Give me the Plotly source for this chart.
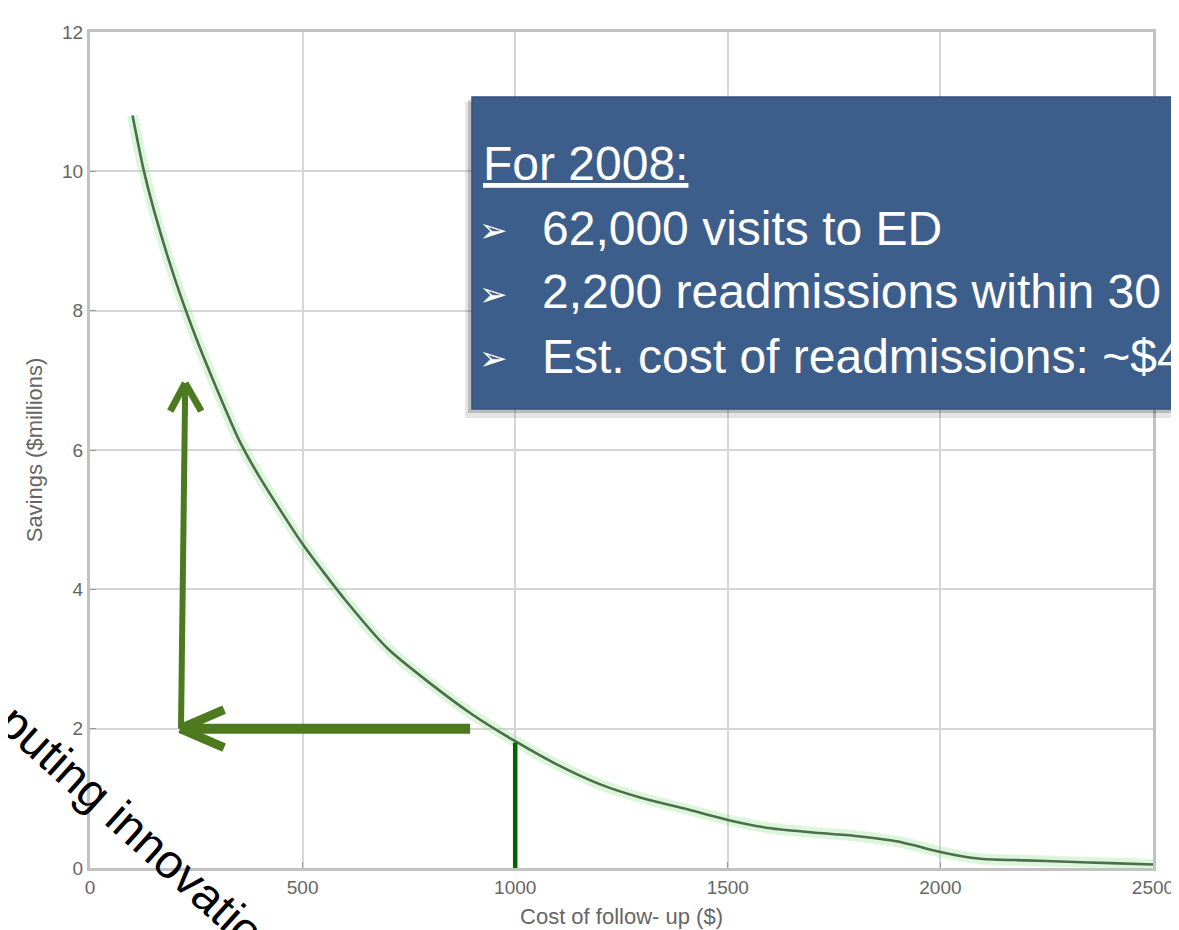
import plotly.graph_objects as go

# ---- data ----
cost = [100, 125, 150, 200, 250, 300, 350, 400, 500, 600, 700, 800, 900, 1000,
        1100, 1200, 1300, 1400, 1500, 1600, 1700, 1800, 1900, 2000, 2050, 2100,
        2200, 2300, 2400, 2500]
savings = [10.8, 10.05, 9.45, 8.45, 7.6, 6.85, 6.15, 5.6, 4.65, 3.85, 3.15, 2.65,
           2.2, 1.82, 1.48, 1.2, 1.0, 0.85, 0.69, 0.57, 0.51, 0.46, 0.38, 0.23,
           0.17, 0.13, 0.11, 0.09, 0.07, 0.05]
x_ticks = [0, 500, 1000, 1500, 2000, 2500]
y_ticks = [0, 2, 4, 6, 8, 10, 12]

# annotation values (data space)
chosen_cost = 1000
chosen_savings = 1.8
target_savings = 2
arrow_h_from = 894
arrow_h_to = 212
arrow_v_x0 = 214
arrow_v_x1 = 224
arrow_v_top = 6.96

box_title = "For 2008:"
box_lines = ["62,000 visits to ED",
             "2,200 readmissions within 30 days",
             "Est. cost of readmissions: ~$40M"]
side_text = "Computing innovation"

# page body has an 8px margin, so the figure is 8px smaller each way
OFF = 8
W, H = 1179 - OFF, 930 - OFF
L, R, T, B = 82, 26, 24, 62
PW, PH = W - L - R, H - T - B


def px(xs):
    """screen x pixel -> paper x"""
    return (xs - OFF - L) / PW


def py(ys):
    """screen y pixel -> paper y"""
    return (H - B - (ys - OFF)) / PH


fig = go.Figure()
fig.add_trace(go.Scatter(x=cost, y=savings, mode="lines",
                         line=dict(color="rgba(140,225,140,0.30)", width=11, shape="spline",
                                   smoothing=0.6),
                         hoverinfo="skip", showlegend=False))
fig.add_trace(go.Scatter(x=cost, y=savings, mode="lines",
                         line=dict(color="#4d6d4d", width=2.6, shape="spline", smoothing=0.6),
                         showlegend=False))

green = "#4e7a1f"
shapes = []
# dark green vertical line at chosen cost
shapes.append(dict(type="line", xref="x", yref="y", x0=chosen_cost, x1=chosen_cost,
                   y0=0, y1=chosen_savings, line=dict(color="#006400", width=4.5)))
# horizontal arrow
shapes.append(dict(type="line", xref="x", yref="y", x0=arrow_h_from, x1=arrow_h_to,
                   y0=target_savings, y1=target_savings, line=dict(color=green, width=10)))
for dy in (19, -19):
    shapes.append(dict(type="line", xref="x", yref="y", xsizemode="pixel", ysizemode="pixel",
                       xanchor=arrow_h_to, yanchor=target_savings,
                       x0=0, y0=0, x1=44, y1=dy, line=dict(color=green, width=9)))
# vertical arrow
shapes.append(dict(type="line", xref="x", yref="y", x0=arrow_v_x0, x1=arrow_v_x1,
                   y0=target_savings, y1=arrow_v_top, line=dict(color=green, width=6)))
for dx in (-15, 16):
    shapes.append(dict(type="line", xref="x", yref="y", xsizemode="pixel", ysizemode="pixel",
                       xanchor=arrow_v_x1, yanchor=arrow_v_top,
                       x0=0, y0=0, x1=dx, y1=-28, line=dict(color=green, width=7)))
# blue info box with shadow
shapes.append(dict(type="rect", xref="paper", yref="paper", x0=px(465), x1=px(1300),
                   y0=py(418), y1=py(102), fillcolor="rgba(0,0,0,0.10)", line_width=0))
shapes.append(dict(type="rect", xref="paper", yref="paper", x0=px(468), x1=px(1300),
                   y0=py(413), y1=py(100), fillcolor="rgba(0,0,0,0.18)", line_width=0))
shapes.append(dict(type="rect", xref="paper", yref="paper", x0=px(472), x1=px(1300),
                   y0=py(409), y1=py(97), fillcolor="#3d5e8a",
                   line=dict(color="#34527a", width=1.5)))

annotations = []
font_box = "Liberation Sans, Arial, sans-serif"
annotations.append(dict(xref="paper", yref="paper", x=px(481), y=py(163), xanchor="left",
                        yanchor="middle", showarrow=False, text="<u>" + box_title + "</u>",
                        font=dict(family=font_box, size=48, color="white")))
for i, t in enumerate(box_lines):
    yc = 228 + 64 * i
    annotations.append(dict(xref="paper", yref="paper", x=px(493), y=py(yc + 2),
                            xanchor="center", yanchor="middle", showarrow=False, text="➢",
                            font=dict(family="DejaVu Sans", size=34, color="white")))
    annotations.append(dict(xref="paper", yref="paper", x=px(540), y=py(yc), xanchor="left",
                            yanchor="middle", showarrow=False, text=t,
                            font=dict(family=font_box, size=48, color="white")))
# rotated slide text
annotations.append(dict(xref="paper", yref="paper", x=px(104), y=py(801), xanchor="center",
                        yanchor="middle", showarrow=False, text=side_text, textangle=42,
                        font=dict(family=font_box, size=48, color="black")))

axis_common = dict(showgrid=True, gridcolor="#d6d6d6", gridwidth=1.8, zeroline=False,
                   showline=True, linecolor="#c2c2c2", linewidth=3, mirror=True,
                   ticks="inside", ticklen=6, tickcolor="#999",
                   tickfont=dict(family="Liberation Sans, Arial", size=19, color="#666"))

fig.update_layout(
    width=W, height=H,
    margin=dict(l=L, r=R, t=T, b=B, autoexpand=False),
    paper_bgcolor="white", plot_bgcolor="white",
    xaxis=dict(range=[0, 2500], tickvals=x_ticks, ticktext=[str(v) for v in x_ticks],
               title=dict(text="Cost of follow- up ($)", standoff=12,
                          font=dict(family="Liberation Sans, Arial", size=22, color="#666")),
               **axis_common),
    yaxis=dict(range=[0, 12], tickvals=y_ticks, ticktext=[str(v) for v in y_ticks],
               title=dict(text="Savings ($millions)", standoff=14,
                          font=dict(family="Liberation Sans, Arial", size=22, color="#666")),
               **axis_common),
    shapes=shapes, annotations=annotations, showlegend=False,
)

fig.write_html("out.html")
